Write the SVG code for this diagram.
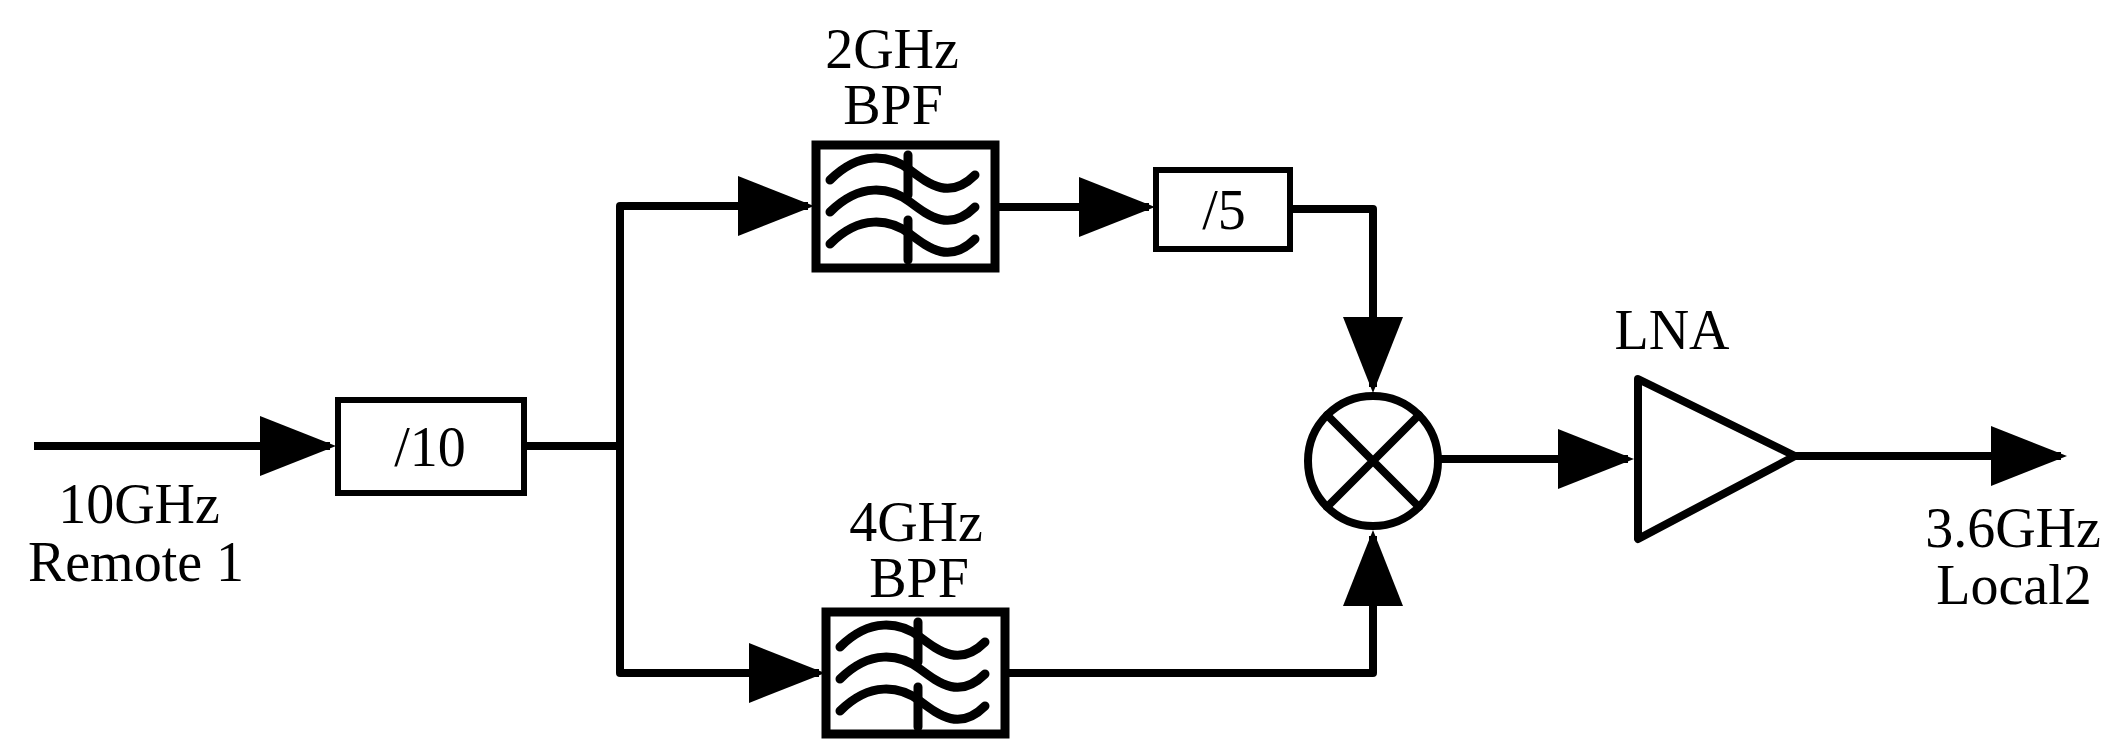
<svg xmlns="http://www.w3.org/2000/svg" width="2126" height="755" viewBox="0 0 2126 755">
<style>
.w{fill:none;stroke:#000;stroke-width:8;stroke-linecap:round;stroke-linejoin:round}
.c{fill:none;stroke:#000;stroke-width:8;stroke-linecap:butt;stroke-linejoin:round}
.b{fill:#fff;stroke:#000;stroke-width:6}
.f{fill:#fff;stroke:#000;stroke-width:9}
.t{font-family:'Liberation Serif','Times New Roman','DejaVu Serif',serif;font-size:56px;fill:#000;text-anchor:middle}
.wave{fill:none;stroke:#000;stroke-width:9;stroke-linecap:round}
</style>
<defs>
<marker id="a" markerUnits="userSpaceOnUse" markerWidth="80" markerHeight="80" refX="70" refY="30" orient="auto">
<path d="M0,0 L76,30 L0,60 Z" fill="#000"/>
</marker>
<g id="filt">
<path class="wave" d="M10,30 C40,0 70,5 90,20 C110,35 130,50 155,25"/>
<path class="wave" d="M10,62 C40,32 70,37 90,52 C110,67 130,82 155,57"/>
<path class="wave" d="M10,94 C40,64 70,69 90,84 C110,99 130,114 155,89"/>
<path class="wave" d="M88,5 V45 M88,70 V110"/>
</g>
</defs>
<g id="connectors">
<path class="c" d="M34,446 H330" marker-end="url(#a)"/>
<path class="w" d="M524,446 H620"/>
<path class="w" d="M620,206 V673"/>
<path class="c" d="M620,206 H808" marker-end="url(#a)"/>
<path class="c" d="M620,673 H819" marker-end="url(#a)"/>
<path class="c" d="M995,207 H1149" marker-end="url(#a)"/>
<path class="c" d="M1290,209 H1373 V387" marker-end="url(#a)"/>
<path class="c" d="M1005,673 H1373 V536" marker-end="url(#a)"/>
<path class="c" d="M1438,459 H1628" marker-end="url(#a)"/>
<path class="c" d="M1795,456 H2061" marker-end="url(#a)"/>
</g>
<g id="div10"><rect class="b" x="338" y="400" width="186" height="93"/><text class="t" x="430" y="466">/10</text></g>
<g id="bpf2"><rect class="f" x="816" y="145" width="179" height="123"/><use href="#filt" x="820" y="150"/>
<text class="t" x="892" y="68">2GHz</text><text class="t" x="893" y="124">BPF</text></g>
<g id="bpf4"><rect class="f" x="826" y="612" width="179" height="122"/><use href="#filt" x="830" y="617"/>
<text class="t" x="916" y="541">4GHz</text><text class="t" x="919" y="597">BPF</text></g>
<g id="div5"><rect class="b" x="1156" y="170" width="134" height="79"/><text class="t" x="1224" y="229">/5</text></g>
<g id="mixer"><circle class="w" cx="1373" cy="461" r="65"/><path class="w" d="M1327,415 L1419,507 M1419,415 L1327,507"/></g>
<g id="lna"><path class="w" d="M1638,379 L1795,456 L1638,539 Z"/><text class="t" x="1672" y="349">LNA</text></g>
<g id="in"><text class="t" x="139" y="523">10GHz</text><text class="t" x="136" y="581">Remote 1</text></g>
<g id="out"><text class="t" x="2013" y="547">3.6GHz</text><text class="t" x="2014" y="604">Local2</text></g>
</svg>
